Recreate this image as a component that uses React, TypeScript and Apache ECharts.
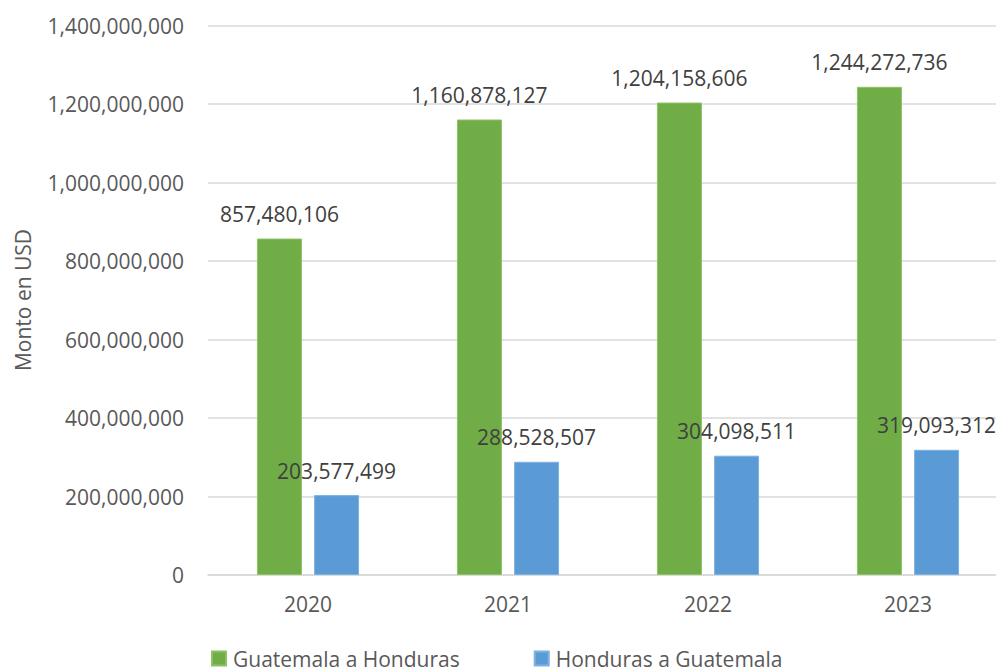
import React, { useEffect, useRef } from "react";
import * as echarts from "echarts";

const years = ["2020", "2021", "2022", "2023"];
const guatemalaAHonduras = [857480106, 1160878127, 1204158606, 1244272736];
const hondurasAGuatemala = [203577499, 288528507, 304098511, 319093312];
const seriesNames = ["Guatemala a Honduras", "Honduras a Guatemala"];
const axisTitle = "Monto en USD";

const FONT = "'Open Sans', 'Liberation Sans', sans-serif";
const fmt = (v: number) => Math.round(v).toLocaleString("en-US");

export default function App() {
  const ref = useRef<HTMLDivElement>(null);
  useEffect(() => {
    if (!ref.current) return;
    const chart = echarts.init(ref.current, undefined, { renderer: "svg" });
    const label = {
      show: true,
      position: "top" as const,
      distance: 14,
      color: "#404040",
      fontSize: 21,
      fontFamily: FONT,
      formatter: (p: any) => fmt(p.value),
    };
    chart.setOption({
      animation: false,
      backgroundColor: "#ffffff",
      textStyle: { fontFamily: FONT },
      grid: {
        left: 208,
        top: 25.7,
        width: 800,
        height: 549.3,
        containLabel: false,
        outerBoundsMode: "none",
      },
      legend: {
        data: seriesNames,
        left: 211,
        top: 648,
        padding: 0,
        icon: "rect",
        itemWidth: 14,
        itemHeight: 14,
        itemGap: 74,
        textStyle: { fontSize: 21, lineHeight: 21, color: "#595959", fontFamily: FONT, padding: [0, 0, 0, 2] },
      },
      xAxis: {
        type: "category",
        data: years,
        axisLine: { lineStyle: { color: "#D9D9D9", width: 1.5 } },
        axisTick: { show: false },
        axisLabel: { color: "#595959", fontSize: 21, fontFamily: FONT, margin: 18 },
      },
      yAxis: {
        type: "value",
        min: 0,
        max: 1400000000,
        interval: 200000000,
        axisLine: { show: false },
        axisTick: { show: false },
        splitLine: { lineStyle: { color: "#D9D9D9", width: 1.5 } },
        axisLabel: {
          color: "#595959",
          fontSize: 21,
          fontFamily: FONT,
          margin: 24,
          formatter: (v: number) => fmt(v),
        },
      },
      graphic: [
        {
          type: "text",
          x: 23,
          y: 300,
          rotation: Math.PI / 2,
          style: {
            text: axisTitle,
            fill: "#595959",
            fontSize: 21,
            fontFamily: FONT,
            textAlign: "center",
            textVerticalAlign: "middle",
          },
        },
      ],
      series: [
        {
          name: seriesNames[0],
          type: "bar",
          data: guatemalaAHonduras,
          barWidth: 45,
          barGap: "27%",
          itemStyle: { color: "#70AD47", borderColor: "#8CC168", borderWidth: 1 },
          label,
        },
        {
          name: seriesNames[1],
          type: "bar",
          data: hondurasAGuatemala,
          barWidth: 45,
          barGap: "27%",
          itemStyle: { color: "#5B9BD5", borderColor: "#7EB1E0", borderWidth: 1 },
          label,
        },
      ],
    });
    return () => chart.dispose();
  }, []);
  return <div ref={ref} style={{ width: 996, height: 671, position: "absolute", left: 0, top: 0 }} />;
}
